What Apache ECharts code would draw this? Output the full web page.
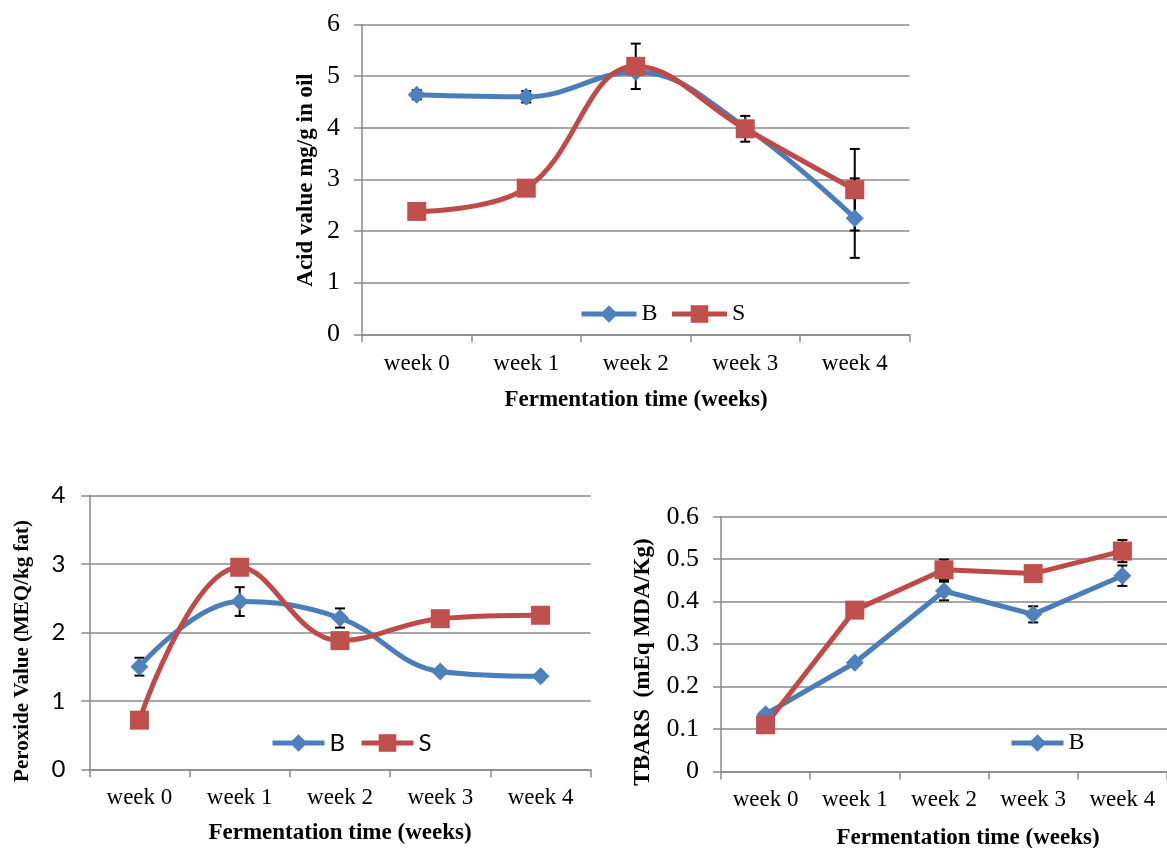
<!DOCTYPE html>
<html><head><meta charset="utf-8">
<script src="https://cdn.jsdelivr.net/npm/echarts@6/dist/echarts.min.js"></script>
<style>html,body{margin:0;padding:0;background:#fff}#c{width:1167px;height:848px}</style>
</head><body><div id="c"></div>
<script>
const weeks = ['week 0', 'week 1', 'week 2', 'week 3', 'week 4'];
const acidTicks = [0, 1, 2, 3, 4, 5, 6];
const acidB = [4.64, 4.60, 5.08, 4.01, 2.25];
const acidS = [2.38, 2.83, 5.19, 3.98, 2.80];
const acidErrB = [0.09, 0.11, 0, 0, 0.77];
const acidErrS = [0, 0, 0.44, 0.25, 0.79];
const peroxTicks = [0, 1, 2, 3, 4];
const peroxB = [1.50, 2.45, 2.21, 1.43, 1.36];
const peroxS = [0.72, 2.95, 1.88, 2.20, 2.25];
const peroxErrB = [0.13, 0.21, 0.14, 0, 0];
const peroxErrS = [0, 0, 0, 0, 0];
const tbarsTicks = [0, 0.1, 0.2, 0.3, 0.4, 0.5, 0.6];
const tbarsB = [0.135, 0.256, 0.425, 0.370, 0.461];
const tbarsS = [0.110, 0.380, 0.475, 0.466, 0.519];
const tbarsErrB = [0, 0, 0.022, 0.019, 0.024];
const tbarsErrS = [0, 0, 0.024, 0, 0.026];

const SERIF = 'Liberation Serif';
const SANS = 'Lato';
const GRID = '#8a8a8a';
const BLINE = '#4A7EBB', BFILL = '#4F81BD';
const SLINE = '#BE4B48', SFILL = '#C0504D';

function xAx(gi, margin) {
  return {
    type: 'category', gridIndex: gi, data: weeks, boundaryGap: true,
    axisLine: { show: true, lineStyle: { color: GRID, width: 1.5 } },
    axisTick: { show: true, length: 8, lineStyle: { color: GRID, width: 1.5 } },
    axisLabel: { fontFamily: SERIF, fontSize: 23, color: '#000', margin: margin }
  };
}
function yAx(gi, ticks, font, fs, margin, fmt) {
  return {
    type: 'value', gridIndex: gi, min: ticks[0], max: ticks[ticks.length - 1],
    interval: ticks[1] - ticks[0],
    axisLine: { show: true, lineStyle: { color: GRID, width: 1.5 } },
    axisTick: { show: true, length: 8, lineStyle: { color: GRID, width: 1.5 } },
    splitLine: { show: true, lineStyle: { color: GRID, width: 1.5 } },
    axisLabel: { fontFamily: font, fontSize: fs, color: '#000', margin: margin, formatter: fmt }
  };
}
function lineSeries(name, gi, data, smooth, isB, size, lw) {
  return {
    type: 'line', name: name, xAxisIndex: gi, yAxisIndex: gi, data: data,
    smooth: smooth, symbol: isB ? 'diamond' : 'rect', symbolSize: isB ? size : size - 1,
    showSymbol: true, z: 3,
    lineStyle: { color: isB ? BLINE : SLINE, width: lw },
    itemStyle: { color: isB ? BFILL : SFILL, borderColor: isB ? BFILL : SFILL, borderWidth: 0 }
  };
}
function errRender(params, api) {
  const x = api.value(0), y = api.value(1), e = api.value(2);
  if (!e) return { type: 'group', children: [] };
  const t = api.coord([x, y + e]), b = api.coord([x, y - e]);
  const hw = 5;
  const st = { stroke: '#000', lineWidth: 2 };
  return {
    type: 'group', children: [
      { type: 'line', shape: { x1: t[0], y1: t[1], x2: b[0], y2: b[1] }, style: st },
      { type: 'line', shape: { x1: t[0] - hw, y1: t[1], x2: t[0] + hw, y2: t[1] }, style: st },
      { type: 'line', shape: { x1: b[0] - hw, y1: b[1], x2: b[0] + hw, y2: b[1] }, style: st }
    ]
  };
}
function errSeries(name, gi, vals, errs) {
  return {
    type: 'custom', name: name, xAxisIndex: gi, yAxisIndex: gi, z: 1,
    renderItem: errRender, encode: { x: 0, y: 1 },
    data: vals.map((v, i) => [i, v, errs[i]])
  };
}
function title(text, x, y, fs, rot) {
  return {
    type: 'text', x: x, y: y, rotation: rot ? Math.PI / 2 : 0, z: 10,
    style: { text: text, fontFamily: SERIF, fontWeight: 'bold', fontSize: fs, fill: '#000',
      textAlign: 'center', textVerticalAlign: 'middle' }
  };
}
function legend(names, left, top, w, gap, font) {
  return {
    data: names, left: left, top: top, padding: 0, itemWidth: w, itemHeight: 22, itemGap: gap,
    selectedMode: false, lineStyle: { width: 5 },
    textStyle: { fontFamily: font, fontSize: 24, color: '#000' }
  };
}

const chart = echarts.init(document.getElementById('c'), null, { renderer: 'canvas' });
chart.setOption({
  animation: false,
  backgroundColor: '#fff',
  grid: [
    { left: 362, top: 24.5, width: 547.5, height: 309.8 },
    { left: 89.3, top: 495.3, width: 501.4, height: 274.2 },
    { left: 721, top: 516.7, width: 456, height: 254.8 }
  ],
  xAxis: [xAx(0, 18), xAx(1, 17), xAx(2, 17)],
  yAxis: [
    yAx(0, acidTicks, SERIF, 26, 22, v => String(v)),
    yAx(1, peroxTicks, SANS, 24, 24, v => String(v)),
    yAx(2, tbarsTicks, SERIF, 26, 22, v => v === 0 ? '0' : v.toFixed(1))
  ],
  legend: [
    legend(['B', 'S'], 579, 302, 55, 12, SERIF),
    legend(['B', 'S'], 270, 731, 52, 14, SANS),
    legend(['B'], 1009, 731, 52, 10, SERIF)
  ],
  graphic: [
    title('Acid value mg/g in oil', 306, 180, 23, true),
    title('Fermentation time (weeks)', 636, 400, 23, false),
    title('Peroxide Value (MEQ/kg fat)', 23, 651, 21, true),
    title('Fermentation time (weeks)', 340, 833, 23, false),
    title('TBARS  (mEq MDA/Kg)', 643, 662, 23, true),
    title('Fermentation time (weeks)', 968, 838, 23, false)
  ],
  series: [
    errSeries('eAB', 0, acidB, acidErrB),
    errSeries('eAS', 0, acidS, acidErrS),
    lineSeries('B', 0, acidB, 0.4, true, 18, 5),
    lineSeries('S', 0, acidS, 0.4, false, 20, 5),
    errSeries('ePB', 1, peroxB, peroxErrB),
    errSeries('ePS', 1, peroxS, peroxErrS),
    lineSeries('B', 1, peroxB, 0.4, true, 18, 5),
    lineSeries('S', 1, peroxS, 0.4, false, 20, 5),
    errSeries('eTB', 2, tbarsB, tbarsErrB),
    errSeries('eTS', 2, tbarsS, tbarsErrS),
    lineSeries('B', 2, tbarsB, false, true, 18, 5),
    lineSeries('S', 2, tbarsS, false, false, 20, 5)
  ]
});
</script>
</body></html>
